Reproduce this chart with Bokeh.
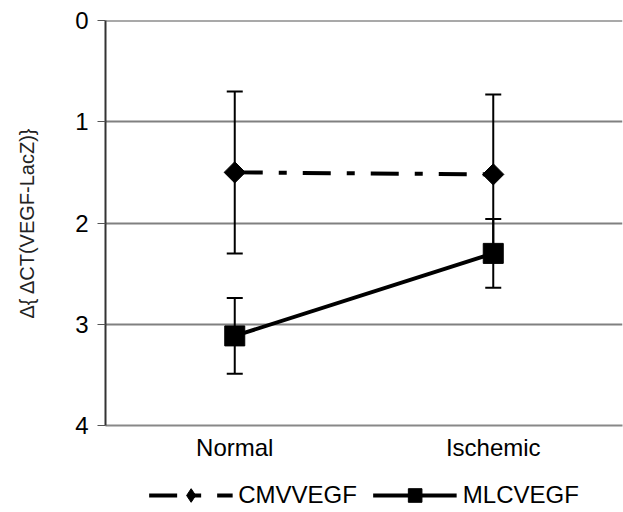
from bokeh.plotting import figure
from bokeh.layouts import column
from bokeh.models import (ColumnDataSource, Whisker, TeeHead, FactorRange, Range1d,
                          Legend, LegendItem, FixedTicker, Span)
from bokeh.embed import file_html
from bokeh.resources import INLINE
from math import pi

categories = ["Normal", "Ischemic"]
series_names = ["CMVVEGF", "MLCVEGF"]
cmv_mean = [1.50, 1.52]
cmv_err = [0.80, 0.79]
mlc_mean = [3.115, 2.30]
mlc_err = [0.375, 0.34]
y_ticks = [0, 1, 2, 3, 4]

FONT = "Liberation Sans"
CMV_DASH = "28 16 8 16"

cmv = ColumnDataSource(dict(x=categories, y=cmv_mean,
                            lo=[m - e for m, e in zip(cmv_mean, cmv_err)],
                            hi=[m + e for m, e in zip(cmv_mean, cmv_err)]))
mlc = ColumnDataSource(dict(x=categories, y=mlc_mean,
                            lo=[m - e for m, e in zip(mlc_mean, mlc_err)],
                            hi=[m + e for m, e in zip(mlc_mean, mlc_err)]))

p = figure(x_range=FactorRange(*categories), y_range=Range1d(y_ticks[-1], y_ticks[0]),
           frame_width=517, frame_height=405,
           output_backend="svg", toolbar_location=None,
           min_border_left=105, min_border_top=20, min_border_right=1,
           min_border_bottom=53)
p.outline_line_color = None
p.background_fill_color = "white"

# grid
p.xgrid.grid_line_color = None
p.ygrid.grid_line_color = "#808080"
p.ygrid.grid_line_width = 2
p.yaxis.ticker = FixedTicker(ticks=y_ticks)
p.add_layout(Span(location=y_ticks[0], dimension="width",
                  line_color="#555555", line_width=2))

# y axis
p.yaxis.axis_line_color = "#333333"
p.yaxis.axis_line_width = 2
p.yaxis.major_tick_line_color = "#555555"
p.yaxis.major_tick_line_width = 1
p.yaxis.major_tick_out = 8
p.yaxis.major_tick_in = 0
p.yaxis.minor_tick_line_color = None
p.yaxis.major_label_text_font = FONT
p.yaxis.major_label_text_font_size = "24px"
p.yaxis.major_label_text_color = "black"
p.yaxis.major_label_standoff = 9
p.yaxis.axis_label = "Δ{ ΔCT(VEGF-LacZ)}"
p.yaxis.axis_label_text_font = FONT
p.yaxis.axis_label_text_font_size = "20px"
p.yaxis.axis_label_text_font_style = "normal"
p.yaxis.axis_label_text_color = "#222222"
p.yaxis.axis_label_standoff = 34

# x axis
p.xaxis.axis_line_color = "#888888"
p.xaxis.axis_line_width = 2
p.xaxis.major_tick_line_color = None
p.xaxis.major_tick_out = 0
p.xaxis.minor_tick_line_color = None
p.xaxis.major_label_text_font = FONT
p.xaxis.major_label_text_font_size = "24px"
p.xaxis.major_label_text_color = "black"
p.xaxis.major_label_standoff = 8

# error bars
for src in (cmv, mlc):
    w = Whisker(base="x", lower="lo", upper="hi", source=src,
                line_color="black", line_width=2,
                upper_head=TeeHead(size=16, line_color="black", line_width=2),
                lower_head=TeeHead(size=16, line_color="black", line_width=2))
    p.add_layout(w)

p.line("x", "y", source=cmv, line_color="black", line_width=4, line_dash=CMV_DASH)
p.scatter("x", "y", source=cmv, marker="square", size=15, angle=pi / 4,
          fill_color="black", line_color="black")
p.line("x", "y", source=mlc, line_color="black", line_width=4)
p.scatter("x", "y", source=mlc, marker="square", size=20,
          fill_color="black", line_color="black")

# legend strip below the chart (key glyphs sit outside its visible range)
lg = figure(width=623, height=34, x_range=Range1d(0, 1), y_range=Range1d(0, 1),
            output_backend="svg", toolbar_location=None,
            x_axis_type=None, y_axis_type=None,
            min_border_left=68, min_border_right=0, min_border_top=0, min_border_bottom=0)
lg.outline_line_color = None
lg.xgrid.visible = False
lg.ygrid.visible = False
off = [-3, -2]
k1l = lg.line(x=off, y=off, line_color="black", line_width=4, line_dash=CMV_DASH)
k1m = lg.scatter(x=off, y=off, marker="diamond", fill_color="black", line_color="black")
k2l = lg.line(x=off, y=off, line_color="black", line_width=4)
k2m = lg.scatter(x=off, y=off, marker="square", fill_color="black", line_color="black")

legend = Legend(items=[LegendItem(label=series_names[0], renderers=[k1l, k1m]),
                       LegendItem(label=series_names[1], renderers=[k2l, k2m])],
                orientation="horizontal", location="center",
                glyph_width=84, glyph_height=34,
                label_text_font=FONT, label_text_font_size="24px",
                label_text_color="black", label_text_baseline="middle",
                label_standoff=6, spacing=16, padding=0, margin=0,
                border_line_color=None, background_fill_alpha=0)
lg.add_layout(legend, "center")

open("out.html", "w").write(file_html(column(p, lg, spacing=0), INLINE))
